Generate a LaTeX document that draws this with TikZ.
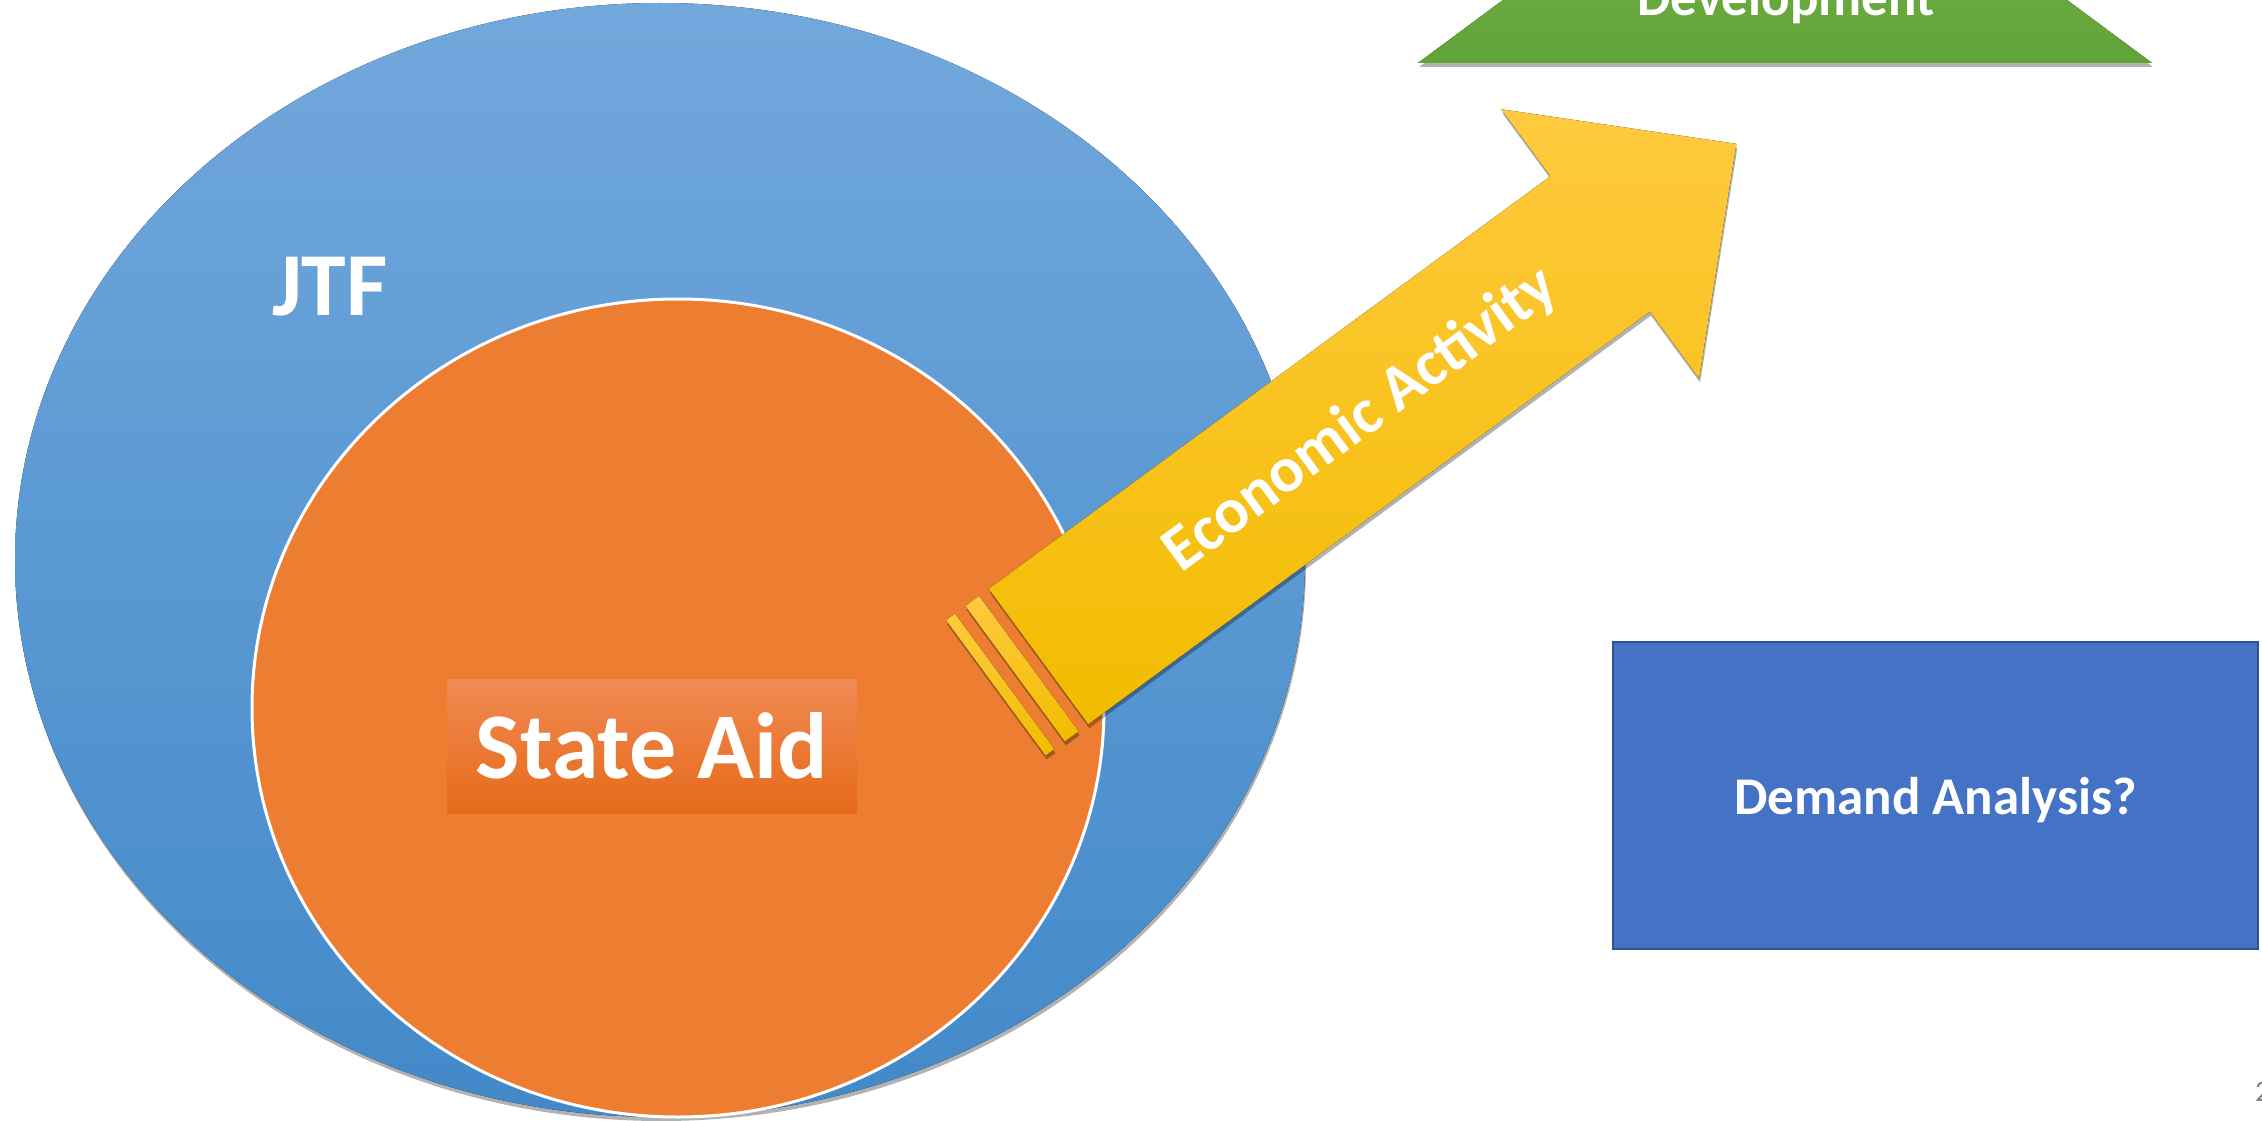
\documentclass[tikz,border=0pt]{standalone}
\usepackage{fontspec}
\setmainfont{Carlito}
\usetikzlibrary{shadows}
\definecolor{jtftop}{RGB}{114,168,220}
\definecolor{jtfbottom}{RGB}{66,137,201}
\definecolor{aidorange}{RGB}{237,125,49}
\definecolor{aidtop}{RGB}{241,138,84}
\definecolor{aidbottom}{RGB}{229,106,25}
\definecolor{arrowtop}{RGB}{255,202,62}
\definecolor{arrowmid}{RGB}{255,194,10}
\definecolor{arrowbottom}{RGB}{242,188,0}
\definecolor{devtop}{RGB}{108,172,64}
\definecolor{devbottom}{RGB}{98,163,56}
\definecolor{demandblue}{RGB}{68,114,196}
\definecolor{demandedge}{RGB}{47,82,143}

\begin{document}
\begin{tikzpicture}[x=1pt,y=-1pt,
      every node/.style={inner sep=0pt,text=white,font=\bfseries},
      soft shadow/.style={drop shadow={shadow xshift=1pt,shadow yshift=-4pt,opacity=0.3,fill=black}},
      aidbox/.style={top color=aidtop,bottom color=aidbottom,minimum width=410,minimum height=134},
      stripe/.style={top color=arrowtop,middle color=arrowmid,bottom color=arrowbottom,soft shadow},
      demandbox/.style={fill=demandblue,draw=demandedge,line width=2pt,minimum width=645,minimum height=307,text depth=0pt}]
    \useasboundingbox (0,0) rectangle (2262,1121);
    \fill[soft shadow,top color=jtftop,bottom color=jtfbottom] (660,560) ellipse [x radius=645,y radius=557];
    \filldraw[fill=aidorange,draw=white,line width=3pt] (678,708) ellipse [x radius=426,y radius=409];
    \node[aidbox,font=\bfseries\fontsize{94}{100}\selectfont] (aid) at (652,746) {State Aid};
    \node[anchor=base west,font=\bfseries\fontsize{90}{96}\selectfont] (jtf) at (272,315) {JTF};
    \begin{scope}[shift={(1038.5,656.5)},rotate=36.3]
      \fill[stripe] (-53,-84) rectangle (-42,84);
      \fill[stripe] (-29,-84) rectangle (-12,84);
      \fill[stripe] (0,-84) -- (697,-84) -- (697,-167) -- (866,0) -- (697,167) -- (697,84) -- (0,84) -- cycle;
      \node[transform shape,font=\bfseries\fontsize{64}{68}\selectfont] (econ) at (400,0) {Economic Activity};
    \end{scope}
    \fill[soft shadow,top color=devtop,bottom color=devbottom] (1418,63) -- (1557,-40) -- (2013,-40) -- (2152,63) -- cycle;
    \node[anchor=base,font=\bfseries\fontsize{53}{56}\selectfont] (dev) at (1786,16) {Development};
    \node[demandbox,font=\bfseries\fontsize{53}{58}\selectfont] (demand) at (1935.5,795.5) {Demand Analysis?};
    \node[anchor=base west,text=gray,font=\fontsize{30}{32}\selectfont] (page) at (2255,1101) {2};
  \end{tikzpicture}
\end{document}
